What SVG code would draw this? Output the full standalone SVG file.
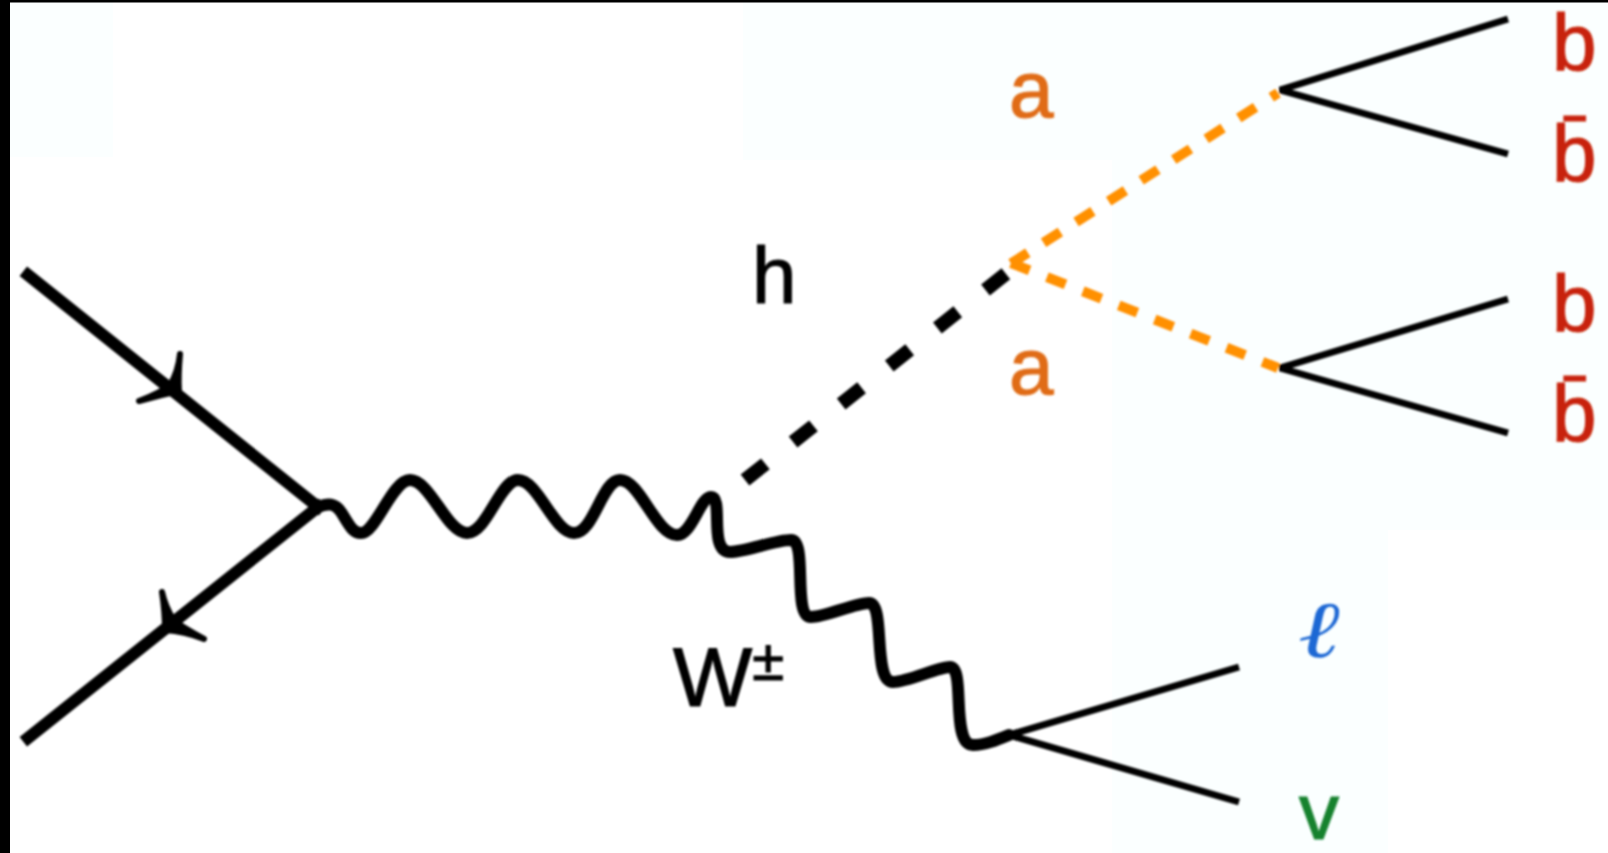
<svg xmlns="http://www.w3.org/2000/svg" width="1608" height="853" viewBox="0 0 1608 853">
<defs>
<filter id="soft" x="-5%" y="-5%" width="110%" height="110%"><feGaussianBlur stdDeviation="0.9"/></filter>
</defs>
<style>
.lab{font-family:"Liberation Sans",Arial,sans-serif;font-size:80px;stroke-width:1.2px}
.red{fill:#c82408;stroke:#c82408}.org{fill:#e06c14;stroke:#e06c14}.blk{fill:#000;stroke:#000}
.fermion{fill:none;stroke:#000;stroke-width:12;stroke-linecap:square}
.barb{fill:#000;stroke:#000;stroke-width:6;stroke-linecap:round;stroke-linejoin:round}
.wave{fill:none;stroke:#000;stroke-width:12;stroke-linecap:round;stroke-linejoin:round}
.thin{fill:none;stroke:#000;stroke-width:7;stroke-linejoin:bevel}
.hdash{fill:none;stroke:#000;stroke-width:14;stroke-dasharray:26 35.300}
.adash{fill:none;stroke:#ff9000;stroke-width:10;stroke-dasharray:20 18.6}
.bg{fill:#fbffff}
</style>
<rect width="1608" height="853" fill="#ffffff"/>
<g id="background">
<rect class="bg" x="10" y="0" width="103" height="157"/>
<rect class="bg" x="743" y="0" width="865" height="160"/>
<rect class="bg" x="1112" y="160" width="496" height="370"/>
<rect class="bg" x="1112" y="530" width="276" height="323"/>
<rect x="0" y="0" width="10" height="853" fill="#000"/>
<rect x="0" y="0" width="1608" height="2.5" fill="#000"/>
</g>
<g id="connectors" filter="url(#soft)">
<path class="fermion" d="M28 275L318 507"/>
<path class="fermion" d="M318 507L28 738"/>
<path class="barb" d="M180 354Q178 376 179 391Q160 395 139 401Q160 393 170 385Q178 372 180 354Z"/>
<path class="barb" d="M162 592Q165 612 165 630Q184 631 204 639Q184 628 174 621Q165 606 162 592Z"/>
<path class="wave" d="M318 507C328 503 335 503 341 512C349 524 352 533 361 533C376 533 392 480 410 480C430 480 447 533 467 533C487 533 500 480 518 480C538 480 554 533 574 533C594 533 602 480 620 480C640 480 656 535 677 535C692 535 700 497 711 497C724 497 708 552 730 552C745 552 775 540 791 540C808 540 792 617 811 617C826 617 855 603 869 603C886 603 872 682 893 682C908 682 938 667 950 667C966 667 950 745 973 745C985 745 997 740 1009 735"/>
<path class="hdash" d="M745 480L1012 269"/>
<path class="adash" d="M1011 263.500L1278 93"/>
<path class="adash" d="M1011 263L1278 368"/>
<path class="thin" d="M1508 19L1280 90L1508 154"/>
<path class="thin" d="M1508 299L1280 368L1508 433"/>
<path class="thin" d="M1239 667L1009 735L1239 802"/>
</g>
<g id="label-h" filter="url(#soft)"><text class="lab blk" x="752" y="303">h</text></g>
<g id="label-a1" filter="url(#soft)"><text class="lab org" x="1009" y="117">a</text></g>
<g id="label-a2" filter="url(#soft)"><text class="lab org" x="1009" y="394">a</text></g>
<g id="label-w" filter="url(#soft)"><text class="lab blk" x="673" y="706" style="font-size:84px">W<tspan style="font-size:58px" dy="-26">±</tspan></text></g>
<g id="label-b1" filter="url(#soft)"><text class="lab red" x="1552" y="70">b</text></g>
<g id="label-b2" filter="url(#soft)"><text class="lab red" x="1552" y="181">b̄</text></g>
<g id="label-b3" filter="url(#soft)"><text class="lab red" x="1552" y="331">b</text></g>
<g id="label-b4" filter="url(#soft)"><text class="lab red" x="1552" y="441">b̄</text></g>
<g id="label-l" filter="url(#soft)"><text transform="translate(1298 657) scale(1.25 1)" style="font-family:'DejaVu Serif','Liberation Serif',serif;font-style:italic;font-size:80px" fill="#1f68d4">ℓ</text></g>
<g id="label-v" filter="url(#soft)"><text class="lab" x="1299" y="839" fill="#14822e" stroke="#14822e">v</text></g>
</svg>
